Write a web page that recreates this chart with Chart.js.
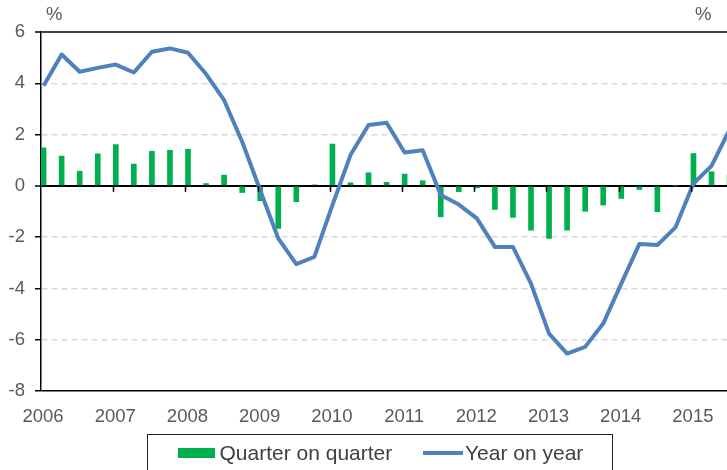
<!DOCTYPE html>
<html>
<head>
<meta charset="utf-8">
<script src="https://cdn.jsdelivr.net/npm/chart.js@4.4.0/dist/chart.umd.min.js"></script>
<style>
  body { margin: 0; background: #fff; }
</style>
</head>
<body>
<canvas id="chart" width="727" height="470"></canvas>
<script>
// ---------------- Datos ----------------
const years = [2006, 2007, 2008, 2009, 2010, 2011, 2012, 2013, 2014, 2015];
const quarters = [];
years.forEach(y => [1, 2, 3, 4].forEach(q => quarters.push(y + ' Q' + q)));
quarters.length = 39; // up to 2015 Q3

// quarter on quarter, %
const qoq = [1.48, 1.16, 0.57, 1.25, 1.61, 0.85, 1.35, 1.39, 1.43, 0.09,
             0.42, -0.26, -0.58, -1.66, -0.62, 0.04, 1.63, 0.12, 0.51, 0.14,
             0.46, 0.2, -1.21, -0.23, -0.08, -0.92, -1.23, -1.73, -2.05, -1.73,
             -0.99, -0.75, -0.49, -0.14, -1.01, 0, 1.26, 0.55, 0.4];

// year on year, %
const yoy = [3.9, 5.12, 4.45, 4.6, 4.73, 4.42, 5.23, 5.36, 5.19, 4.36,
             3.34, 1.72, -0.17, -2.05, -3.05, -2.77, -0.75, 1.2, 2.37, 2.46,
             1.3, 1.39, -0.36, -0.73, -1.27, -2.38, -2.38, -3.81, -5.76, -6.54,
             -6.28, -5.37, -3.81, -2.27, -2.31, -1.62, 0.09, 0.78, 2.2];

const yTicks = [-8, -6, -4, -2, 0, 2, 4, 6];

// quarter label -> decimal year (mid first month of quarter)
const toX = lbl => { const [y, q] = lbl.split(' Q'); return +y + (q - 1) / 4 + 1 / 28; };

const FONT = "'Liberation Sans', Arial, sans-serif";
const TXT = '#595959';

// ---------------- Extras: ticks on zero line, % labels, legend ----------------
const extras = {
  id: 'extras',
  afterDatasetsDraw(chart) {
    const { ctx, scales: { x, y } } = chart;
    const y0 = y.getPixelForValue(0);
    ctx.save();
    ctx.strokeStyle = '#000';
    ctx.lineWidth = 1.5;
    years.slice(1).forEach(yr => {
      const px = Math.round(x.getPixelForValue(yr)) + 0.5;
      ctx.beginPath();
      ctx.moveTo(px, y0);
      ctx.lineTo(px, y0 + 6);
      ctx.stroke();
    });
    ctx.restore();
  },
  afterDraw(chart) {
    const { ctx } = chart;
    ctx.save();
    ctx.font = `18.5px ${FONT}`;
    ctx.fillStyle = TXT;
    ctx.textBaseline = 'middle';
    ctx.textAlign = 'left';
    ctx.fillText('%', 46, 15);
    ctx.fillText('%', 695, 15);

    // legend
    ctx.strokeStyle = '#222';
    ctx.lineWidth = 1;
    ctx.strokeRect(147.5, 434.5, 465, 40);
    ctx.fillStyle = '#00b050';
    ctx.fillRect(178, 448, 37, 10);
    ctx.strokeStyle = '#4f81bd';
    ctx.lineWidth = 4;
    ctx.beginPath();
    ctx.moveTo(423, 453);
    ctx.lineTo(463, 453);
    ctx.stroke();
    ctx.font = `21px ${FONT}`;
    ctx.fillStyle = '#404040';
    ctx.fillText('Quarter on quarter', 219.5, 454);
    ctx.fillText('Year on year', 465, 454);
    ctx.restore();
  }
};

const solid = v => v === 0 || v === 6 || v === -8;

new Chart(document.getElementById('chart'), {
  data: {
    datasets: [
      {
        type: 'line',
        label: 'Year on year',
        data: quarters.map((q, i) => ({ x: toX(q), y: yoy[i] })),
        borderColor: '#4f81bd',
        borderWidth: 4,
        borderJoinStyle: 'round',
        pointRadius: 0,
        tension: 0,
        order: 0
      },
      {
        type: 'bar',
        label: 'Quarter on quarter',
        data: quarters.map((q, i) => ({ x: toX(q), y: qoq[i] })),
        backgroundColor: '#00b050',
        barThickness: 5,
        order: 1
      }
    ]
  },
  options: {
    responsive: false,
    animation: false,
    layout: { padding: { top: 32, left: 0, right: 0, bottom: 0 } },
    plugins: { legend: { display: false }, tooltip: { enabled: false } },
    scales: {
      x: {
        type: 'linear',
        min: 2006,
        max: 2015.5,
        offset: false,
        afterBuildTicks: s => { s.ticks = years.map(v => ({ value: v })); },
        afterFit: s => { s.height = 79; },
        grid: { display: false, drawTicks: false, offset: false },
        border: { display: false },
        ticks: {
          autoSkip: false, maxRotation: 0, padding: 15, labelOffset: 2,
          color: TXT, font: { family: FONT, size: 18.5 },
          callback: v => String(v)
        }
      },
      y: {
        min: -8,
        max: 6,
        afterBuildTicks: s => { s.ticks = yTicks.map(v => ({ value: v })); },
        afterFit: s => { s.width = 41; },
        grid: {
          color: c => (c.tick && solid(c.tick.value)) ? (c.tick.value === 6 ? '#404040' : '#000') : '#d9d9d9',
          lineWidth: c => (c.tick && (c.tick.value === 0 || c.tick.value === 6)) ? 2 : 1.5,
          tickColor: '#000',
          tickLength: 6,
          tickWidth: 1.5,
          drawTicks: true
        },
        border: {
          display: true, color: '#000', width: 1.5,
          dash: c => (c.tick && !solid(c.tick.value)) ? [6, 4] : []
        },
        ticks: {
          padding: 10,
          color: TXT, font: { family: FONT, size: 18.5 },
          callback: v => String(v)
        }
      }
    }
  },
  plugins: [extras]
});
</script>
</body>
</html>
